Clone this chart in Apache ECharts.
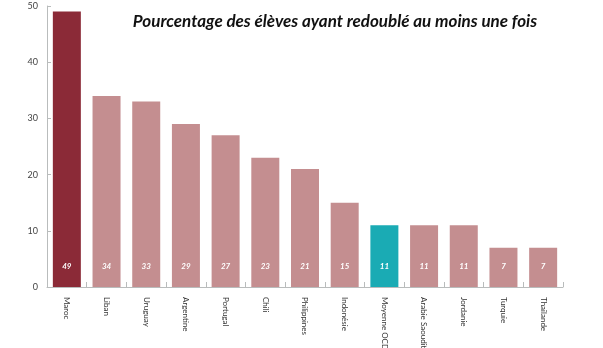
<!DOCTYPE html>
<html><head><meta charset="utf-8">
<script src="https://cdn.jsdelivr.net/npm/echarts@6/dist/echarts.min.js"></script>
<style>html,body{margin:0;padding:0;background:#fff}#c{width:603px;height:348px}</style>
</head><body><div id="c"></div>
<script>
const categories = ["Maroc","Liban","Uruguay","Argentine","Portugal","Chili","Philippines","Indonésie","Moyenne OCDE","Arabie Saoudite","Jordanie","Turquie","Thaïlande"];
const values = [49,34,33,29,27,23,21,15,11,11,11,7,7];
const yTicks = [0,10,20,30,40,50];
const title = "Pourcentage des élèves ayant redoublé au moins une fois";

const colorFor = (name) => name === "Maroc" ? "#8b2a37" : (name === "Moyenne OCDE" ? "#1aabb4" : "#c48e90");

const chart = echarts.init(document.getElementById('c'), null, {renderer:'canvas'});
chart.setOption({
  animation:false,
  backgroundColor:'#fff',
  title:{text:title, left:330, top:8, textAlign:'center',
    textStyle:{fontFamily:'Lato', fontStyle:'italic', fontWeight:'bold', fontSize:17, color:'#111'}},
  grid:{left:47, right:40, top:6, bottom:61, containLabel:false, outerBoundsMode:'none'},
  xAxis:{type:'category', data:categories,
    axisLine:{lineStyle:{color:'#b9bcbc', width:1}},
    axisTick:{show:true, alignWithLabel:false, inside:true, length:5, lineStyle:{color:'#b9bcbc'}},
    axisLabel:{rotate:-90, interval:0, margin:10, fontFamily:'Lato', fontSize:8, color:'#333'}},
  yAxis:{type:'value', min:yTicks[0], max:yTicks[yTicks.length-1], interval:10,
    axisLine:{show:true, lineStyle:{color:'#b9bcbc'}},
    axisTick:{show:true, inside:true, length:4, lineStyle:{color:'#b9bcbc'}},
    splitLine:{show:false},
    axisLabel:{fontFamily:'Lato', fontSize:9, color:'#444', margin:9}},
  series:[{type:'bar', barWidth:28,
    data: values.map((v,i)=>({value:v, itemStyle:{color:colorFor(categories[i])}})),
    label:{show:true, position:'insideBottom', distance:17, color:'#fff', fontStyle:'italic', fontWeight:'bold', fontFamily:'Lato', fontSize:8}
  }]
});
</script></body></html>
